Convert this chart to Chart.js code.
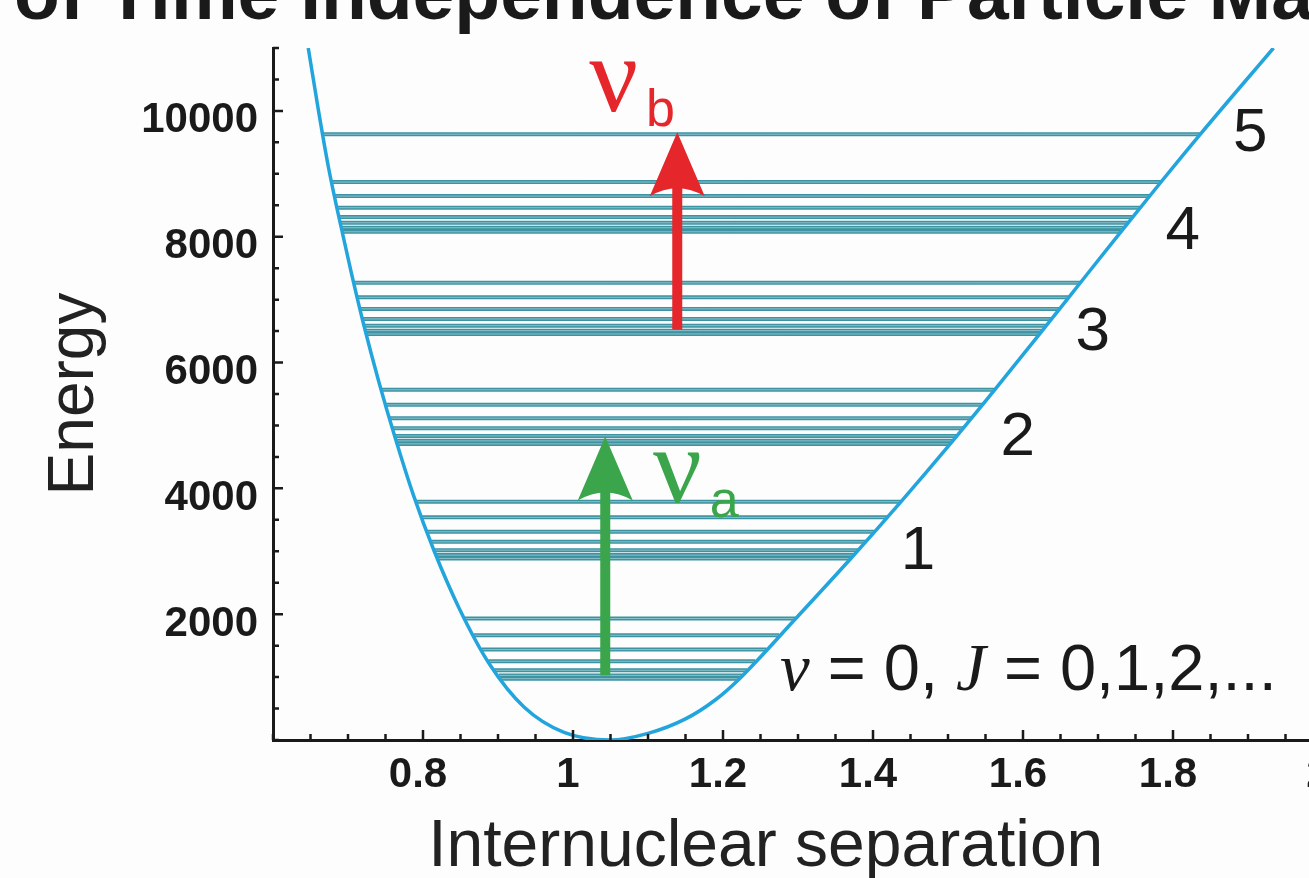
<!DOCTYPE html>
<html>
<head>
<meta charset="utf-8">
<script src="https://cdn.jsdelivr.net/npm/chart.js@4.4.0/dist/chart.umd.min.js"></script>
<style>
  html, body { margin: 0; padding: 0; width: 1309px; height: 878px; overflow: hidden; background: #fdfdfd; }
  #title { position: absolute; left: 14px; top: -44px; font: bold 75px "Liberation Sans", Arial, sans-serif;
           line-height: 1; color: #1a1a1a; white-space: nowrap; }
  #wrap { position: absolute; left: 0; top: 0; width: 1360px; height: 878px; }
</style>
</head>
<body>
<div id="title">of Time Independence of Particle Mass</div>
<div id="wrap"><canvas id="chart"></canvas></div>
<script>
// potential energy curve (x = internuclear separation, E = energy)
const curveX = [0.647, 0.660, 0.674, 0.689, 0.704, 0.721, 0.741, 0.763, 0.787, 0.815, 0.848, 0.889, 0.935,
  0.988, 1.049, 1.100, 1.150, 1.190, 1.222, 1.297, 1.371, 1.438, 1.503, 1.563, 1.622, 1.677, 1.731, 1.784,
  1.836, 1.934];
const curveE = [11000, 10050, 9100, 8250, 7450, 6600, 5700, 4800, 3900, 3000, 2100, 1200, 520,
  120, 0, 105, 335, 640, 975, 1931, 2893, 3798, 4708, 5578, 6451, 7276, 8086, 8870,
  9624, 11000];

// rotational levels (v = 0..5, J = 0,1,2,...): energy and where each line meets the walls
const levelEnergy = [
  975, 1027, 1108, 1251, 1437, 1665, 1931,
  2886, 2939, 3018, 3150, 3310, 3539, 3788,
  4707, 4755, 4834, 4957, 5116, 5328, 5567,
  6454, 6507, 6586, 6693, 6853, 7037, 7267,
  8079, 8143, 8222, 8312, 8461, 8646, 8869,
  9629];
const levelLeft = [
  0.904, 0.901, 0.895, 0.887, 0.878, 0.868, 0.856,
  0.819, 0.817, 0.814, 0.810, 0.805, 0.798, 0.790,
  0.766, 0.764, 0.762, 0.759, 0.755, 0.750, 0.744,
  0.724, 0.723, 0.721, 0.719, 0.716, 0.712, 0.708,
  0.692, 0.691, 0.690, 0.688, 0.685, 0.682, 0.678,
  0.666];
const levelRight = [
  1.222, 1.226, 1.232, 1.243, 1.258, 1.275, 1.297,
  1.371, 1.374, 1.380, 1.390, 1.402, 1.419, 1.437,
  1.503, 1.506, 1.512, 1.520, 1.531, 1.546, 1.562,
  1.622, 1.625, 1.631, 1.638, 1.649, 1.661, 1.676,
  1.730, 1.735, 1.740, 1.746, 1.756, 1.769, 1.784,
  1.836];

// transitions
const arrowX = [1.043, 1.139];
const arrowFrom = [1027, 6523];
const arrowTo = [4823, 9661];
const arrowNames = ["a", "b"];

// vibrational quantum number labels
const vibLabels = ["1", "2", "3", "4", "5"];
const vibLabelX = [1.460, 1.593, 1.693, 1.813, 1.903];
const vibLabelE = [2987, 4803, 6475, 8084, 9629];

// tick labels for the axes
const xTickLabels = [0.8, 1, 1.2, 1.4, 1.6, 1.8, 2];
const yTickLabels = [2000, 4000, 6000, 8000, 10000];

const ink = "#1a1a1a";
const arrowColors = ["#3aa54a", "#e5262b"];
const nuAnchorX = [1.112, 1.027];
const nuAnchorE = [3783, 9995];

const levelPoints = [];
levelEnergy.forEach((e, i) => {
  levelPoints.push({ x: levelLeft[i], y: e }, { x: levelRight[i], y: e }, { x: levelRight[i], y: null });
});

const innerTicks = {
  id: "innerTicks",
  afterDatasetsDraw(chart) {
    const { ctx, scales: { x, y } } = chart;
    ctx.save();
    ctx.strokeStyle = ink;
    ctx.lineWidth = 2.5;
    ctx.beginPath();
    x.ticks.forEach((t) => {
      const px = x.getPixelForValue(t.value);
      const len = t.label ? 10 : 6;
      ctx.moveTo(px, y.bottom);
      ctx.lineTo(px, y.bottom - len);
    });
    y.ticks.forEach((t) => {
      const py = y.getPixelForValue(t.value);
      const len = t.label ? 10 : 6;
      ctx.moveTo(x.left, py);
      ctx.lineTo(x.left + len, py);
    });
    ctx.stroke();
    ctx.restore();
  }
};

const annotations = {
  id: "annotations",
  afterDatasetsDraw(chart) {
    const { ctx, scales: { x, y } } = chart;
    ctx.save();

    // arrows
    arrowX.forEach((ax, i) => {
      const px = x.getPixelForValue(ax);
      const y0 = y.getPixelForValue(arrowFrom[i]);
      const y1 = y.getPixelForValue(arrowTo[i]);
      const headLen = 64, headW = 55;
      ctx.fillStyle = arrowColors[i];
      ctx.fillRect(px - 5, y1 + headLen - 12, 10, y0 - (y1 + headLen - 12));
      ctx.beginPath();
      ctx.moveTo(px, y1);
      ctx.lineTo(px + headW / 2, y1 + headLen);
      ctx.quadraticCurveTo(px, y1 + headLen - 16, px - headW / 2, y1 + headLen);
      ctx.closePath();
      ctx.fill();

      // nu labels
      const lx = x.getPixelForValue(nuAnchorX[i]);
      const ly = y.getPixelForValue(nuAnchorE[i]);
      ctx.textAlign = "left";
      ctx.textBaseline = "alphabetic";
      ctx.font = '108px "Liberation Serif", "DejaVu Serif", serif';
      ctx.fillText("\u03bd", lx - 4, ly);
      const w = ctx.measureText("\u03bd").width;
      ctx.font = '52px "Liberation Sans", Arial, sans-serif';
      ctx.fillText(arrowNames[i], lx + w + 4, ly + 15);
    });

    // vibrational numbers
    ctx.fillStyle = ink;
    ctx.textAlign = "center";
    ctx.textBaseline = "middle";
    ctx.font = '62px "Liberation Sans", Arial, sans-serif';
    vibLabels.forEach((t, i) => {
      ctx.fillText(t, x.getPixelForValue(vibLabelX[i]), y.getPixelForValue(vibLabelE[i]));
    });

    // v = 0, J = 0,1,2,...
    const parts = [
      ["v", 'italic 67px "Liberation Serif", serif'],
      [" = 0, ", '65px "Liberation Sans", Arial, sans-serif'],
      ["J", 'italic 67px "Liberation Serif", serif'],
      [" = 0,1,2,...", '65px "Liberation Sans", Arial, sans-serif']
    ];
    let cx = x.getPixelForValue(1.276);
    const cy = y.getPixelForValue(788);
    ctx.textAlign = "left";
    ctx.textBaseline = "alphabetic";
    parts.forEach(([t, f]) => {
      ctx.font = f;
      ctx.fillText(t, cx, cy);
      cx += ctx.measureText(t).width;
    });

    // x axis title, centred under the visible part of the axis
    ctx.fillStyle = "#222";
    ctx.textAlign = "center";
    ctx.textBaseline = "middle";
    ctx.font = '66px "Liberation Sans", Arial, sans-serif';
    ctx.fillText("Internuclear separation", x.getPixelForValue(1.257), x.bottom - 30);
    ctx.restore();
  }
};

new Chart(document.getElementById("chart"), {
  type: "line",
  data: {
    datasets: [
      {
        data: levelPoints,
        borderColor: "#3d93a2",
        borderWidth: 4,
        pointRadius: 0,
        spanGaps: false,
        order: 3
      },
      {
        data: levelPoints,
        borderColor: "rgba(190,224,230,0.6)",
        borderWidth: 1,
        pointRadius: 0,
        spanGaps: false,
        order: 2
      },
      {
        data: curveX.map((v, i) => ({ x: v, y: curveE[i] })),
        borderColor: "#22a5dc",
        borderWidth: 3.5,
        pointRadius: 0,
        cubicInterpolationMode: "monotone",
        order: 1
      }
    ]
  },
  options: {
    responsive: true,
    maintainAspectRatio: false,
    animation: false,
    layout: { padding: { left: 0, top: 48, right: 37, bottom: 0 } },
    plugins: { legend: { display: false }, tooltip: { enabled: false } },
    scales: {
      x: {
        type: "linear",
        min: 0.6,
        max: 2.0,
        afterFit: (s) => { s.height = 138; },
        grid: { display: false, drawTicks: false },
        border: { display: true, width: 3, color: ink },
        ticks: {
          stepSize: 0.05,
          autoSkip: false,
          maxRotation: 0,
          padding: 10,
          labelOffset: -5,
          color: ink,
          font: { family: '"Liberation Sans", Arial, sans-serif', size: 42, weight: "bold" },
          callback: (v) => {
            const hit = xTickLabels.find((t) => Math.abs(t - v) < 1e-6);
            return hit === undefined ? "" : String(hit);
          }
        },
        title: { display: false }
      },
      y: {
        min: 0,
        max: 11000,
        afterFit: (s) => { s.width = 273; },
        grid: { display: false, drawTicks: false },
        border: { display: true, width: 3, color: ink },
        ticks: {
          stepSize: 500,
          autoSkip: false,
          padding: 15,
          labelOffset: 10,
          color: ink,
          font: { family: '"Liberation Sans", Arial, sans-serif', size: 42, weight: "bold" },
          callback: (v) => (yTickLabels.includes(v) ? String(v) : "")
        },
        title: {
          display: true,
          text: "Energy",
          color: "#222",
          font: { family: '"Liberation Sans", Arial, sans-serif', size: 64, lineHeight: 1 },
          padding: { top: 43, bottom: 0 }
        }
      }
    }
  },
  plugins: [innerTicks, annotations]
});
</script>
</body>
</html>
